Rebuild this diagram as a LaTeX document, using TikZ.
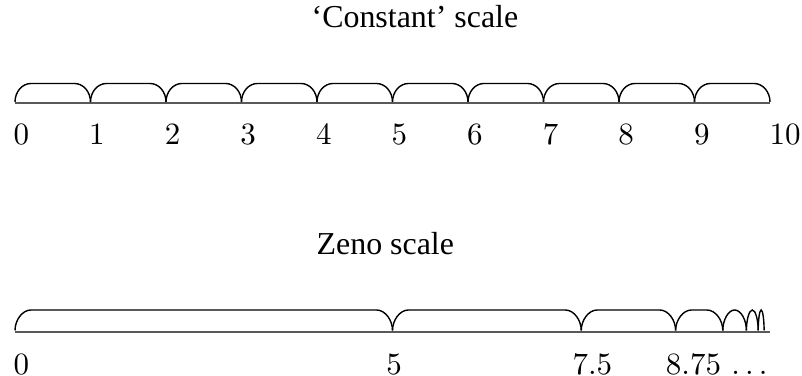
\documentclass[tikz,border=0pt]{standalone}
\usepackage{fontspec}
\newfontfamily\titlefont{Liberation Serif}
\begin{document}
\begin{tikzpicture}[x={(0.3226pt,0)},y={(0,-0.3226pt)},
  brace/.style={draw=black,line width=0.45pt},
  axisline/.style={draw=black!65,line width=0.75pt},
  lab/.style={inner sep=0pt,anchor=base west,font=\fontsize{10}{12}\selectfont},
  ttl/.style={inner sep=0pt,anchor=base west,font=\titlefont\fontsize{10.3}{12}\selectfont}]
\useasboundingbox (0,0) rectangle (802,376);
% titles
\node[ttl] (t1) at (311,28) {‘Constant’ scale};
\node[ttl] (t2) at (316,255) {Zeno scale};
% constant scale
\draw[axisline] (15,103.3) -- (770,103.3);
\foreach \i in {0,...,9} {
  \pgfmathsetmacro\a{15+75.5*\i}
  \pgfmathsetmacro\b{\a+75.5}
  \draw[brace] (\a,102) .. controls (\a,91.8) and (\a+7.2,83.5) .. (\a+16,83.5)
     -- (\b-16,83.5) .. controls (\b-7.2,83.5) and (\b,91.8) .. (\b,102);
}
\foreach \i in {0,...,10} {
  \node[lab] (c\i) at (13+75.6*\i,145) {$\i$};
}
% Zeno scale
\draw[axisline] (15,332) -- (770,332);
\foreach \p/\q in {0/5,5/7.5,7.5/8.75,8.75/9.375,9.375/9.6875,9.6875/9.84375,9.84375/9.921875} {
  \pgfmathsetmacro\a{15+75.5*\p}
  \pgfmathsetmacro\b{15+75.5*\q}
  \pgfmathsetmacro\r{min(16,(\b-\a)/2)}
  \pgfmathsetmacro\k{0.448*\r}
  \draw[brace] (\a,330.5) .. controls (\a,320.3) and (\a+\k,310) .. (\a+\r,310)
     -- (\b-\r,310) .. controls (\b-\k,310) and (\b,320.3) .. (\b,330.5);
}
\node[lab] (z0) at (13,374.5) {$0$};
\node[lab] (z5) at (385.75,374.5) {$5$};
\node[lab] (z75) at (572,374.5) {$7.5$};
\node[lab] (z875) at (665.3,374.5) {$8.75$ $\ldots$};
\end{tikzpicture}
\end{document}
